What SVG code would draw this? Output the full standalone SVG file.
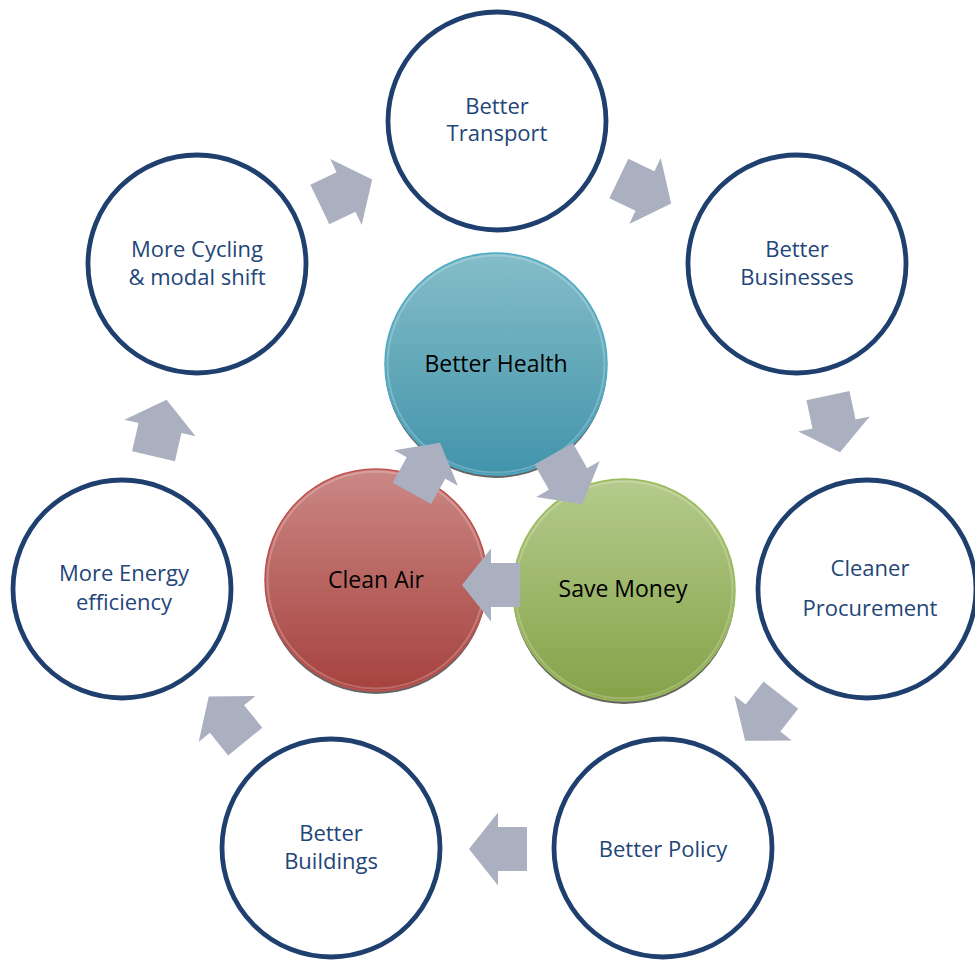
<svg xmlns="http://www.w3.org/2000/svg" width="975" height="961" viewBox="0 0 975 961">
<defs>
<style>
.outer{fill:#fff;stroke:#1F3F6F;stroke-width:4.8}
.olbl{font-family:"Open Sans","Liberation Sans",sans-serif;font-size:22px;fill:#1F4679;text-anchor:middle}
.ilbl{font-family:"Open Sans","Liberation Sans",sans-serif;font-size:23px;fill:#000;text-anchor:middle}
.shadow{fill:#4a4a4a;opacity:0.85}
.arr{fill:#ABB0C0}
.gloss{fill:none;stroke:#fff;stroke-opacity:0.22;stroke-width:2}
</style>
<linearGradient id="gHealth" x1="0" y1="0" x2="0" y2="1">
<stop offset="0" stop-color="#84BDC8"/>
<stop offset="1" stop-color="#4294AB"/>
</linearGradient>
<linearGradient id="gAir" x1="0" y1="0" x2="0" y2="1">
<stop offset="0" stop-color="#CB8885"/>
<stop offset="1" stop-color="#A6423E"/>
</linearGradient>
<linearGradient id="gMoney" x1="0" y1="0" x2="0" y2="1">
<stop offset="0" stop-color="#B4CB8C"/>
<stop offset="1" stop-color="#86A248"/>
</linearGradient>
<polygon id="arrow" points="-29,-22 0,-22 0,-36.5 29,0 0,36.5 0,22 -29,22"/>
</defs>

<g id="n-transport">
<circle class="outer" cx="497" cy="121" r="109"/>
<text class="olbl" x="497" y="114">Better</text>
<text class="olbl" x="497" y="141">Transport</text>
</g>
<g id="n-businesses">
<circle class="outer" cx="797" cy="264" r="109"/>
<text class="olbl" x="797" y="257">Better</text>
<text class="olbl" x="797" y="285">Businesses</text>
</g>
<g id="n-procurement">
<circle class="outer" cx="867" cy="589" r="109"/>
<text class="olbl" x="870" y="576">Cleaner</text>
<text class="olbl" x="870" y="616">Procurement</text>
</g>
<g id="n-policy">
<circle class="outer" cx="663" cy="848" r="109"/>
<text class="olbl" x="663" y="857">Better Policy</text>
</g>
<g id="n-buildings">
<circle class="outer" cx="331" cy="848" r="109"/>
<text class="olbl" x="331" y="841">Better</text>
<text class="olbl" x="331" y="869">Buildings</text>
</g>
<g id="n-energy">
<circle class="outer" cx="122" cy="589" r="109"/>
<text class="olbl" x="124" y="581">More Energy</text>
<text class="olbl" x="124" y="610">efficiency</text>
</g>
<g id="n-cycling">
<circle class="outer" cx="197" cy="264" r="109"/>
<text class="olbl" x="197" y="257">More Cycling</text>
<text class="olbl" x="197" y="285">&amp; modal shift</text>
</g>

<g id="n-health">
<circle class="shadow" cx="496" cy="367" r="111"/>
<circle cx="496" cy="364" r="111" fill="url(#gHealth)" stroke="#4BACC6" stroke-width="1.5"/>
<circle class="gloss" cx="496" cy="364" r="108.5"/>
<text class="ilbl" x="496" y="372">Better Health</text>
</g>
<g id="n-cleanair">
<circle class="shadow" cx="376" cy="583" r="111"/>
<circle cx="376" cy="580" r="111" fill="url(#gAir)" stroke="#C0504D" stroke-width="1.5"/>
<circle class="gloss" cx="376" cy="580" r="108.5"/>
<text class="ilbl" x="376" y="588">Clean Air</text>
</g>
<g id="n-savemoney">
<circle class="shadow" cx="624" cy="593" r="111"/>
<circle cx="624" cy="590" r="111" fill="url(#gMoney)" stroke="#9BBB59" stroke-width="1.5"/>
<circle class="gloss" cx="624" cy="590" r="108.5"/>
<text class="ilbl" x="623" y="597">Save Money</text>
</g>

<g id="connectors" class="arr">
<use href="#arrow" transform="translate(346,192) rotate(-25.5)"/>
<use href="#arrow" transform="translate(645,191) rotate(25.5)"/>
<use href="#arrow" transform="translate(834,424) rotate(78)"/>
<use href="#arrow" transform="translate(763,718) rotate(128)"/>
<use href="#arrow" transform="translate(498,849) rotate(180)"/>
<use href="#arrow" transform="translate(227,719) rotate(231)"/>
<use href="#arrow" transform="translate(160,428) rotate(-77)"/>
<use href="#arrow" transform="translate(426,468) rotate(-61)"/>
<use href="#arrow" transform="translate(568,479) rotate(60.5)"/>
<use href="#arrow" transform="translate(491,585) rotate(180)"/>
</g>
</svg>
